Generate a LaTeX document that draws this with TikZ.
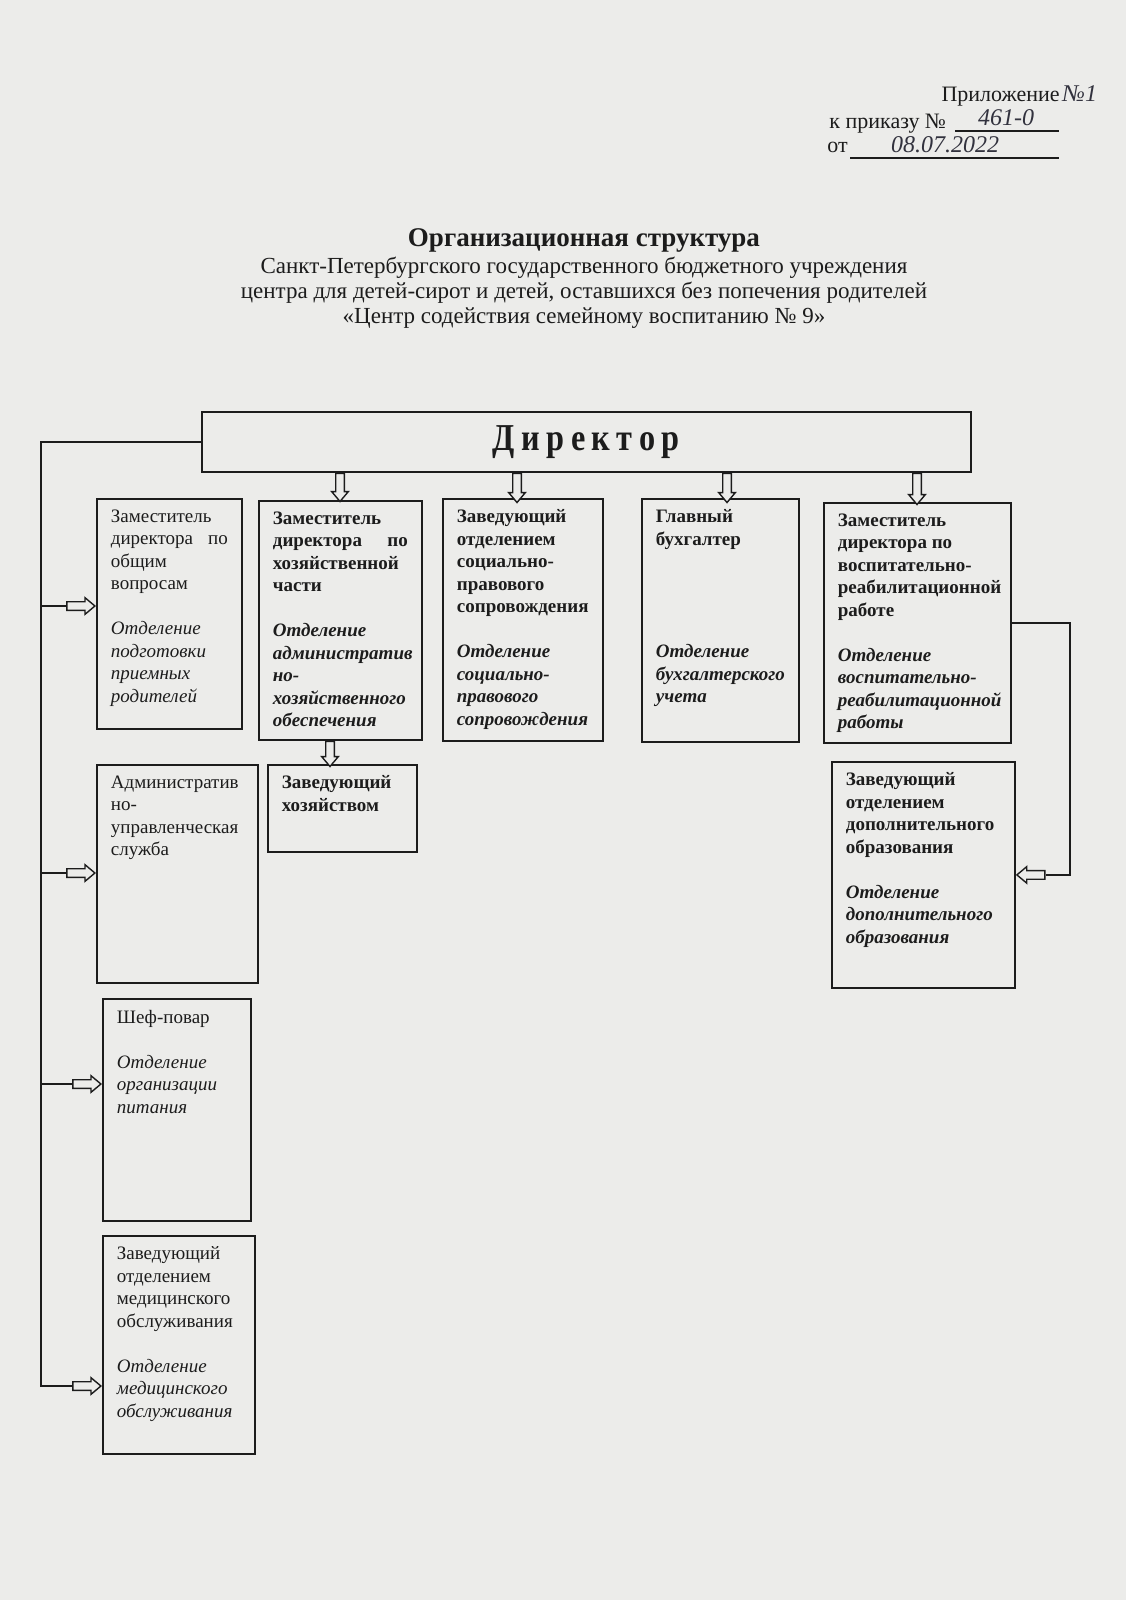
\documentclass[tikz,border=0pt]{standalone}
\usepackage{fontspec}
\setmainfont{Liberation Serif}
\usetikzlibrary{shapes.arrows,calc}
\definecolor{paper}{RGB}{236,236,234}
\definecolor{ink}{RGB}{28,28,28}
\definecolor{pen}{RGB}{50,50,62}
\newcommand\orgbx[7]{%
  \pgfmathsetmacro\bxw{(#4-#2)*0.5-14}%
  \pgfmathsetmacro\bxh{(#5-#3)*0.5-11}%
  \node[orgbox,#6] (#1) at (#2,#3) {\parbox[t][\bxh pt][t]{\bxw pt}{#7}};%
}
\tikzset{
  orgbox/.style={draw=ink, line width=0.9pt, anchor=north west, inner xsep=7pt, inner ysep=5.5pt, text=ink, font=\fontsize{9.5}{11.25}\selectfont},
  bd/.style={font=\fontsize{9.5}{11.25}\selectfont\bfseries},
  barrow/.style={single arrow, draw=ink, fill=paper, line width=0.7pt, inner sep=1.8pt, minimum width=0pt, single arrow head extend=2pt, single arrow tip angle=80},
  conn/.style={draw=ink, line width=0.9pt},
  hdr/.style={text=ink, font=\fontsize{11}{13}\selectfont},
  hand/.style={text=pen, font=\fontsize{12}{14}\selectfont\itshape},
  ttl/.style={text=ink, anchor=base, font=\fontsize{11.5}{13}\selectfont}
}
\begin{document}
\begin{tikzpicture}[x=0.5pt,y=-0.5pt]
\useasboundingbox[fill=paper] (0,0) rectangle (1126,1600);
% header
\node[hdr, anchor=base east, inner sep=0] (pril) at (1060,102) {Приложение};
\node[hand, anchor=base west, inner sep=1pt] (n1) at (pril.base east) {№1};
\node[hdr, anchor=base west, inner sep=0] (prk) at (829,128) {к приказу №};
\draw[conn, line width=0.6pt] (955,131) -- (1059,131);
\node[hand, anchor=base] (num) at (1006,126) {461-0};
\node[hdr, anchor=base west, inner sep=0] (ot) at (827,153) {от};
\draw[conn, line width=0.6pt] (850,158) -- (1059,158);
\node[hand, anchor=base] (date) at (945,152) {08.07.2022};
% title
\node[ttl, font=\fontsize{13.5}{16}\selectfont\bfseries] (t0) at (584,246) {Организационная структура};
\node[ttl] (t1) at (584,273) {Санкт-Петербургского государственного бюджетного учреждения};
\node[ttl] (t2) at (584,298) {центра для детей-сирот и детей, оставшихся без попечения родителей};
\node[ttl] (t3) at (584,323) {«Центр содействия семейному воспитанию № 9»};
% director
\node[draw=ink, line width=0.9pt, anchor=north west, minimum width=384.5pt, minimum height=30pt, inner sep=0, text=ink, font=\fontsize{19}{22}\selectfont\bfseries] (dir) at (201,411) {\scalebox{0.85}[1]{Д\hspace{0.2em}и\hspace{0.2em}р\hspace{0.2em}е\hspace{0.2em}к\hspace{0.2em}т\hspace{0.2em}о\hspace{0.2em}р}};
% boxes
\orgbx{b1}{96}{498}{241}{728}{}{Заместитель\\ директора\hfill по\\ общим\\ вопросам\\[\baselineskip] {\itshape Отделение\\ подготовки\\ приемных\\ родителей}}
\orgbx{b2}{258}{500}{421}{739}{bd}{Заместитель\\ директора\hfill по\\ хозяйственной\\ части\\[\baselineskip] {\itshape Отделение\\ административ\\ но-\\ хозяйственного\\ обеспечения}}
\orgbx{b3}{442}{498}{602}{740}{bd}{Заведующий\\ отделением\\ социально-\\ правового\\ сопровождения\\[\baselineskip] {\itshape Отделение\\ социально-\\ правового\\ сопровождения}}
\orgbx{b4}{641}{498}{798}{741}{bd}{Главный\\ бухгалтер\\[4\baselineskip] {\itshape Отделение\\ бухгалтерского\\ учета}}
\orgbx{b5}{823}{502}{1010}{742}{bd}{Заместитель\\ директора по\\ воспитательно-\\ реабилитационной\\ работе\\[\baselineskip] {\itshape Отделение\\ воспитательно-\\ реабилитационной\\ работы}}
\orgbx{b6}{267}{764}{416}{851}{bd}{Заведующий\\ хозяйством}
\orgbx{b7}{96}{764}{257}{982}{}{Административ\\ но-\\ управленческая\\ служба}
\orgbx{b8}{102}{998}{250}{1220}{}{Шеф-повар\\[\baselineskip] {\itshape Отделение\\ организации\\ питания}}
\orgbx{b9}{102}{1235}{254}{1453}{}{Заведующий\\ отделением\\ медицинского\\ обслуживания\\[\baselineskip] {\itshape Отделение\\ медицинского\\ обслуживания}}
\orgbx{b10}{831}{761}{1014}{987}{bd}{Заведующий\\ отделением\\ дополнительного\\ образования\\[\baselineskip] {\itshape Отделение\\ дополнительного\\ образования}}
% x / y guide coordinates
\coordinate (xa2) at (340,0);
\coordinate (xa3) at (517,0);
\coordinate (xa4) at (727,0);
\coordinate (xa5) at (917,0);
\coordinate (xa6) at (330,0);
\coordinate (Lx) at (41,0);
\coordinate (Rx) at (1070,0);
\coordinate (y1) at (0,606);
\coordinate (y7) at (0,873);
\coordinate (y8) at (0,1084);
\coordinate (y9) at (0,1386);
% down arrows from director
\node[barrow, shape border rotate=270, minimum height=14pt, anchor=tail] (a2) at (xa2 |- dir.south) {};
\node[barrow, shape border rotate=270, minimum height=14.5pt, anchor=tail] (a3) at (xa3 |- dir.south) {};
\node[barrow, shape border rotate=270, minimum height=14.5pt, anchor=tail] (a4) at (xa4 |- dir.south) {};
\node[barrow, shape border rotate=270, minimum height=15.5pt, anchor=tail] (a5) at (xa5 |- dir.south) {};
\node[barrow, shape border rotate=270, minimum height=12.5pt, anchor=tail] (a6) at (xa6 |- b2.south) {};
% left branch arrows
\node[barrow, minimum height=14pt, anchor=tip] (l1) at (b1.west |- y1) {};
\node[barrow, minimum height=14pt, anchor=tip] (l7) at (b7.west |- y7) {};
\node[barrow, minimum height=14pt, anchor=tip] (l8) at (b8.west |- y8) {};
\node[barrow, minimum height=14pt, anchor=tip] (l9) at (b9.west |- y9) {};
\draw[conn] (dir.west) -| (Lx |- l9.tail) -- (l9.tail);
\draw[conn] (Lx |- l1.tail) -- (l1.tail);
\draw[conn] (Lx |- l7.tail) -- (l7.tail);
\draw[conn] (Lx |- l8.tail) -- (l8.tail);
% right connector
\node[barrow, shape border rotate=180, minimum height=14pt, anchor=tip] (r10) at (b10.east) {};
\draw[conn] (b5.east) -| (Rx |- r10.tail) -- (r10.tail);
\end{tikzpicture}
\end{document}
